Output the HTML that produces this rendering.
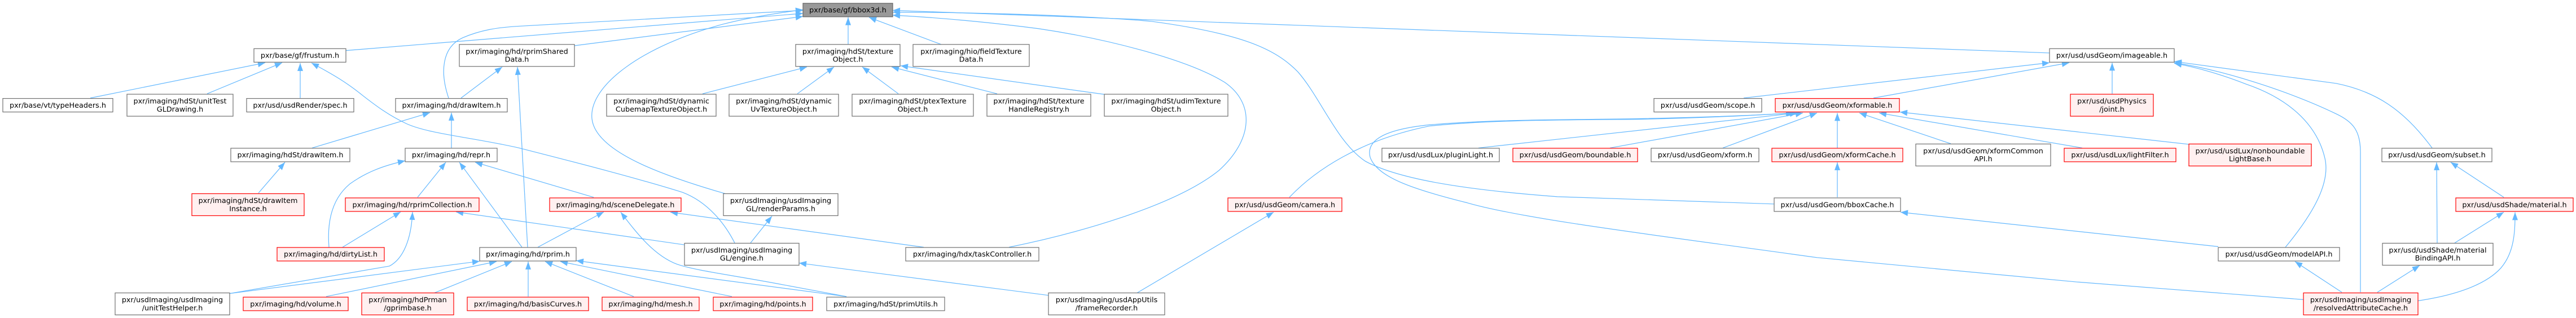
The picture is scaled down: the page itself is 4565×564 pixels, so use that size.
<!DOCTYPE html>
<html><head><meta charset="utf-8"><style>
html,body{margin:0;padding:0;background:#fff;}
svg{display:block;}
text{font-family:"DejaVu Sans","Liberation Sans",sans-serif;font-size:12.8px;fill:#000;}
.e{fill:none;stroke:#63b8ff;stroke-width:1.2;marker-end:url(#a);vector-effect:non-scaling-stroke;}
.n{fill:#fff;stroke:#707070;stroke-width:1.2;}
.r{fill:#fff0f0;stroke:#ff0000;stroke-width:1.2;}
</style></head><body>
<svg width="4565" height="564" viewBox="0 0 4565 564" xmlns="http://www.w3.org/2000/svg">
<defs><marker id="a" markerUnits="userSpaceOnUse" markerWidth="14" markerHeight="10" viewBox="0 0 13 10" refX="13" refY="5" orient="auto"><path d="M0,0L13,5L0,10z" fill="#63b8ff"/></marker></defs>
<g transform="matrix(1,0,0,1.08,0,0)">
<path class="e" d="M613,83 L1423,22"/>
<path class="e" d="M795,161 C780,120 782,78 820,62 C850,50 880,45 920,43 L1423,17"/>
<path class="e" d="M1018,75 L1423,27"/>
<path class="e" d="M1285,318 C1180,290 1055,250 1049,195 C1043,140 1140,75 1280,40 C1330,28 1380,21 1423,16"/>
<path class="e" d="M1503,73 L1503,28.3"/>
<path class="e" d="M1668,73 L1540,28.5"/>
<path class="e" d="M3632,87 L1582,17"/>
<path class="e" d="M3144,335 L2760,323 C2600,312 2480,295 2420,265 C2370,235 2340,160 2300,118 C2260,80 2200,55 2040,35 C1900,24 1700,20 1582,20"/>
<path class="e" d="M1788,406 C1900,385 2080,340 2160,280 C2220,230 2225,170 2170,135 C2100,95 1950,62 1840,47 C1750,36 1650,28 1582,25"/>
<path class="e" d="M160,161 L470,103"/>
<path class="e" d="M367,154 L500,103"/>
<path class="e" d="M532,161 L532,103.5"/>
<path class="e" d="M1302,399 C1285,368 1255,332 1210,316 C1120,290 1000,262 920,243 C840,226 760,220 720,203 C690,190 668,175 643,157 C615,136 590,122 552,103.5"/>
<path class="e" d="M817,161 L890,110"/>
<path class="e" d="M935,406 L917,110"/>
<path class="e" d="M553,243 L762,185"/>
<path class="e" d="M800,243 L800,185"/>
<path class="e" d="M458,317 L505,266.5"/>
<path class="e" d="M583,406 C579,360 590,325 620,302 C650,282 680,272 718,264"/>
<path class="e" d="M740,324 L790,266.5"/>
<path class="e" d="M925,406 L814,266.5"/>
<path class="e" d="M1052,324 L842,266.5"/>
<path class="e" d="M607,406 L710,348"/>
<path class="e" d="M407,482 L690,437 C715,425 729,392 731,348"/>
<path class="e" d="M1213,402 L808,348"/>
<path class="e" d="M407,482 L850,429"/>
<path class="e" d="M578,487 L880,429.5"/>
<path class="e" d="M770,481 L907,429.5"/>
<path class="e" d="M936,487 L936,429.5"/>
<path class="e" d="M1123,487 L966,429.5"/>
<path class="e" d="M1297,487 L993,429.5"/>
<path class="e" d="M1500,487 L1021,428"/>
<path class="e" d="M953,406 L1070,348"/>
<path class="e" d="M1500,487 L1390,468 C1300,452 1235,445 1200,434 C1160,420 1130,385 1100,348.5"/>
<path class="e" d="M1637,406 L1188,348.5"/>
<path class="e" d="M1330,399 L1368,355"/>
<path class="e" d="M1858,485 L1416,432"/>
<path class="e" d="M1245,154 L1430,110"/>
<path class="e" d="M1413,154 L1478,110"/>
<path class="e" d="M1592,154 L1528,110"/>
<path class="e" d="M1767,154 L1580,110"/>
<path class="e" d="M1957,155 L1596,108"/>
<path class="e" d="M3090,161 L3632,103"/>
<path class="e" d="M3320,161 L3667,103"/>
<path class="e" d="M3743,154 L3743,103"/>
<path class="e" d="M4310,243 C4260,180 4210,150 4140,137 L3853,101"/>
<path class="e" d="M4183,480 L4183,250 C4183,215 4170,200 4140,187 C4080,160 3960,118 3853,103"/>
<path class="e" d="M4050,406 C4100,350 4130,300 4120,260 C4105,200 4050,160 3980,138 C3930,120 3890,110 3853,104"/>
<path class="e" d="M2285,324 C2330,280 2410,230 2533,207 C2640,197 2760,197 2900,196 C3000,194 3100,190 3178,185.5"/>
<path class="e" d="M4082,492 L3680,463 L3220,423 C2950,388 2700,360 2600,333 C2500,310 2440,290 2428,258 C2420,228 2460,212 2533,205 C2650,196 2760,197 2900,195 C3000,193 3100,190 3180,185.5"/>
<path class="e" d="M2620,243 L3185,185.5"/>
<path class="e" d="M2853,243 L3195,185.5"/>
<path class="e" d="M3053,243 L3220,185.5"/>
<path class="e" d="M3256,243 L3256,185.5"/>
<path class="e" d="M3457,236 L3295,185.5"/>
<path class="e" d="M3690,243 L3330,185.5"/>
<path class="e" d="M3879,237 L3367,184"/>
<path class="e" d="M3256,324 L3256,266.5"/>
<path class="e" d="M3931,405 L3368,348.5"/>
<path class="e" d="M2015,481 L2257,348.5"/>
<path class="e" d="M4319,399 L4318,266.5"/>
<path class="e" d="M4437,324 L4343,266.5"/>
<path class="e" d="M4350,399 L4437,348.5"/>
<path class="e" d="M4285,494 C4350,485 4405,468 4432,440 C4456,414 4457,380 4457,348.5"/>
<path class="e" d="M4213,480 L4288,436"/>
<path class="e" d="M4150,480 L4067,429.5"/>
</g>
<g text-anchor="middle">
<rect x="1423" y="5.8" width="159" height="24" fill="#999999" stroke="#666666" stroke-width="1.2"/><text x="1502.5" y="22.1">pxr/base/gf/bbox3d.h</text>

<rect class="n" x="450" y="86.3" width="163" height="24"/><text x="531.5" y="102.6">pxr/base/gf/frustum.h</text>
<rect class="n" x="814" y="78.8" width="204" height="39"/><text x="916" y="95.3">pxr/imaging/hd/rprimShared</text><text x="916" y="109.6">Data.h</text>
<rect class="n" x="1410" y="78.8" width="185" height="39"/><text x="1502.5" y="95.3">pxr/imaging/hdSt/texture</text><text x="1502.5" y="109.6">Object.h</text>
<rect class="n" x="1618" y="78.8" width="206" height="39"/><text x="1721" y="95.3">pxr/imaging/hio/fieldTexture</text><text x="1721" y="109.6">Data.h</text>
<rect class="n" x="3632" y="86.3" width="221" height="24"/><text x="3742.5" y="102.6">pxr/usd/usdGeom/imageable.h</text>

<rect class="n" x="5" y="174.6" width="195" height="24"/><text x="102.5" y="190.9">pxr/base/vt/typeHeaders.h</text>
<rect class="n" x="225" y="167.1" width="188" height="39"/><text x="319" y="183.6">pxr/imaging/hdSt/unitTest</text><text x="319" y="197.9">GLDrawing.h</text>
<rect class="n" x="437" y="174.6" width="190" height="24"/><text x="532" y="190.9">pxr/usd/usdRender/spec.h</text>
<rect class="n" x="701" y="174.6" width="198" height="24"/><text x="800" y="190.9">pxr/imaging/hd/drawItem.h</text>
<rect class="n" x="1075" y="167.1" width="194" height="39"/><text x="1172" y="183.6">pxr/imaging/hdSt/dynamic</text><text x="1172" y="197.9">CubemapTextureObject.h</text>
<rect class="n" x="1292" y="167.1" width="194" height="39"/><text x="1389" y="183.6">pxr/imaging/hdSt/dynamic</text><text x="1389" y="197.9">UvTextureObject.h</text>
<rect class="n" x="1510" y="167.1" width="215" height="39"/><text x="1617.5" y="183.6">pxr/imaging/hdSt/ptexTexture</text><text x="1617.5" y="197.9">Object.h</text>
<rect class="n" x="1749" y="167.1" width="184" height="39"/><text x="1841" y="183.6">pxr/imaging/hdSt/texture</text><text x="1841" y="197.9">HandleRegistry.h</text>
<rect class="n" x="1957" y="167.1" width="219" height="39"/><text x="2066.5" y="183.6">pxr/imaging/hdSt/udimTexture</text><text x="2066.5" y="197.9">Object.h</text>
<rect class="n" x="2931" y="174.6" width="191" height="24"/><text x="3026.5" y="190.9">pxr/usd/usdGeom/scope.h</text>
<rect class="r" x="3146" y="174.6" width="220" height="24"/><text x="3256" y="190.9">pxr/usd/usdGeom/xformable.h</text>
<rect class="r" x="3669" y="167.1" width="147" height="39"/><text x="3742.5" y="183.6">pxr/usd/usdPhysics</text><text x="3742.5" y="197.9">/joint.h</text>

<rect class="n" x="409" y="262.9" width="211" height="24"/><text x="514.5" y="279.2">pxr/imaging/hdSt/drawItem.h</text>
<rect class="n" x="718" y="262.9" width="163" height="24"/><text x="799.5" y="279.2">pxr/imaging/hd/repr.h</text>
<rect class="n" x="2449" y="262.9" width="208" height="24"/><text x="2553" y="279.2">pxr/usd/usdLux/pluginLight.h</text>
<rect class="r" x="2681" y="262.9" width="221" height="24"/><text x="2791.5" y="279.2">pxr/usd/usdGeom/boundable.h</text>
<rect class="n" x="2926" y="262.9" width="191" height="24"/><text x="3021.5" y="279.2">pxr/usd/usdGeom/xform.h</text>
<rect class="r" x="3140" y="262.9" width="232" height="24"/><text x="3256" y="279.2">pxr/usd/usdGeom/xformCache.h</text>
<rect class="n" x="3395" y="255.4" width="239" height="39"/><text x="3514.5" y="271.9">pxr/usd/usdGeom/xformCommon</text><text x="3514.5" y="286.2">API.h</text>
<rect class="r" x="3658" y="262.9" width="198" height="24"/><text x="3757" y="279.2">pxr/usd/usdLux/lightFilter.h</text>
<rect class="r" x="3879" y="255.4" width="217" height="39"/><text x="3987.5" y="271.9">pxr/usd/usdLux/nonboundable</text><text x="3987.5" y="286.2">LightBase.h</text>
<rect class="n" x="4221" y="262.9" width="195" height="24"/><text x="4318.5" y="279.2">pxr/usd/usdGeom/subset.h</text>

<rect class="r" x="340" y="343.5" width="199" height="39"/><text x="439.5" y="360">pxr/imaging/hdSt/drawItem</text><text x="439.5" y="374.3">Instance.h</text>
<rect class="r" x="612" y="351" width="237" height="24"/><text x="730.5" y="367.3">pxr/imaging/hd/rprimCollection.h</text>
<rect class="r" x="974" y="351" width="233" height="24"/><text x="1090.5" y="367.3">pxr/imaging/hd/sceneDelegate.h</text>
<rect class="n" x="1282" y="343.5" width="203" height="39"/><text x="1383.5" y="360">pxr/usdImaging/usdImaging</text><text x="1383.5" y="374.3">GL/renderParams.h</text>
<rect class="r" x="2176" y="351" width="202" height="24"/><text x="2277" y="367.3">pxr/usd/usdGeom/camera.h</text>
<rect class="n" x="3144" y="351" width="224" height="24"/><text x="3256" y="367.3">pxr/usd/usdGeom/bboxCache.h</text>
<rect class="r" x="4352" y="351" width="208" height="24"/><text x="4456" y="367.3">pxr/usd/usdShade/material.h</text>

<rect class="r" x="491" y="438.9" width="190" height="24"/><text x="586" y="455.2">pxr/imaging/hd/dirtyList.h</text>
<rect class="n" x="850" y="438.9" width="171" height="24"/><text x="935.5" y="455.2">pxr/imaging/hd/rprim.h</text>
<rect class="n" x="1213" y="431.4" width="203" height="39"/><text x="1314.5" y="447.9">pxr/usdImaging/usdImaging</text><text x="1314.5" y="462.2">GL/engine.h</text>
<rect class="n" x="1605" y="438.9" width="236" height="24"/><text x="1723" y="455.2">pxr/imaging/hdx/taskController.h</text>
<rect class="n" x="3931" y="438.9" width="215" height="24"/><text x="4038.5" y="455.2">pxr/usd/usdGeom/modelAPI.h</text>
<rect class="n" x="4222" y="431.4" width="196" height="39"/><text x="4320" y="447.9">pxr/usd/usdShade/material</text><text x="4320" y="462.2">BindingAPI.h</text>

<rect class="n" x="204" y="519.5" width="203" height="39"/><text x="305.5" y="536">pxr/usdImaging/usdImaging</text><text x="305.5" y="550.3">/unitTestHelper.h</text>
<rect class="r" x="431" y="527" width="186" height="24"/><text x="524" y="543.3">pxr/imaging/hd/volume.h</text>
<rect class="r" x="641" y="519.5" width="163" height="39"/><text x="722.5" y="536">pxr/imaging/hdPrman</text><text x="722.5" y="550.3">/gprimbase.h</text>
<rect class="r" x="828" y="527" width="215" height="24"/><text x="935.5" y="543.3">pxr/imaging/hd/basisCurves.h</text>
<rect class="r" x="1067" y="527" width="172" height="24"/><text x="1153" y="543.3">pxr/imaging/hd/mesh.h</text>
<rect class="r" x="1264" y="527" width="176" height="24"/><text x="1352" y="543.3">pxr/imaging/hd/points.h</text>
<rect class="n" x="1465" y="527" width="209" height="24"/><text x="1569.5" y="543.3">pxr/imaging/hdSt/primUtils.h</text>
<rect class="n" x="1858" y="519.5" width="206" height="39"/><text x="1961" y="536">pxr/usdImaging/usdAppUtils</text><text x="1961" y="550.3">/frameRecorder.h</text>
<rect class="r" x="4082" y="519.5" width="203" height="39"/><text x="4183.5" y="536">pxr/usdImaging/usdImaging</text><text x="4183.5" y="550.3">/resolvedAttributeCache.h</text>
</g>
</svg>
</body></html>
